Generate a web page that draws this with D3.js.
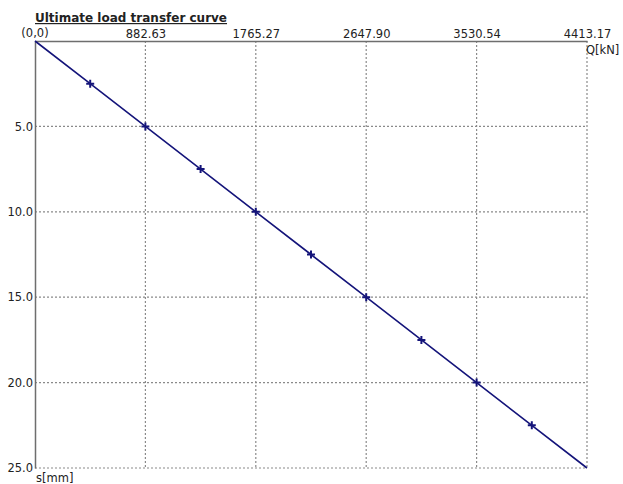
<!DOCTYPE html>
<html>
<head>
<meta charset="utf-8">
<script src="https://cdn.jsdelivr.net/npm/d3@7"></script>
<style>
  html, body { margin: 0; padding: 0; background: #fff; }
  svg { display: block; }
  text { font-family: "DejaVu Sans", Verdana, sans-serif; fill: #222; }
</style>
</head>
<body>
<svg id="chart" width="623" height="484"></svg>
<script>
// Load (Q) and settlement (s) along the ultimate load transfer curve
const loadQ = [0, 441.32, 882.63, 1323.95, 1765.27, 2206.59, 2647.90, 3089.22, 3530.54, 3971.85, 4413.17];
const settlementS = [0, 2.5, 5.0, 7.5, 10.0, 12.5, 15.0, 17.5, 20.0, 22.5, 25.0];
const qTicks = [882.63, 1765.27, 2647.90, 3530.54, 4413.17];
const sTicks = [5.0, 10.0, 15.0, 20.0, 25.0];

const svg = d3.select("#chart");
const plot = { left: 35, top: 41, right: 587, bottom: 468 };

const x = d3.scaleLinear().domain([0, 4413.17]).range([plot.left, plot.right]);
const y = d3.scaleLinear().domain([0, 25]).range([plot.top, plot.bottom]);

const gridColor = "#8a8a8a";

// Dotted grid lines
svg.append("g").selectAll("line").data(qTicks).join("line")
  .attr("x1", d => x(d)).attr("x2", d => x(d))
  .attr("y1", plot.top).attr("y2", plot.bottom)
  .attr("stroke", gridColor).attr("stroke-width", 1.2)
  .attr("stroke-dasharray", "2,2");
svg.append("g").selectAll("line").data(sTicks).join("line")
  .attr("x1", plot.left).attr("x2", plot.right)
  .attr("y1", d => y(d)).attr("y2", d => y(d))
  .attr("stroke", gridColor).attr("stroke-width", 1.2)
  .attr("stroke-dasharray", "2,2");

// Top axis (Q) and left axis (s)
const xAxis = d3.axisTop(x).tickValues(qTicks).tickSize(0).tickPadding(3)
  .tickFormat(d3.format(".2f"));
const gx = svg.append("g").attr("transform", `translate(0,${plot.top})`).call(xAxis);
gx.select(".domain").attr("stroke", "#6e6e6e").attr("stroke-width", 1.5);
gx.selectAll("text").style("font-size", "11.5px").attr("fill", "#222");

const yAxis = d3.axisLeft(y).tickValues(sTicks).tickSize(0).tickPadding(2)
  .tickFormat(d3.format(".1f"));
const gy = svg.append("g").attr("transform", `translate(${plot.left},0)`).call(yAxis);
gy.select(".domain").attr("stroke", "#6e6e6e").attr("stroke-width", 1.5);
gy.selectAll("text").style("font-size", "11.5px").attr("fill", "#222");

// Origin label and axis titles
svg.append("text").attr("x", plot.left).attr("y", 37).attr("text-anchor", "middle")
  .style("font-size", "11.5px").text("(0,0)");
svg.append("text").attr("x", plot.right - 1).attr("y", 54)
  .style("font-size", "11.5px").text("Q[kN]");
svg.append("text").attr("x", plot.left + 1).attr("y", 482)
  .style("font-size", "11.5px").text("s[mm]");

// Title
svg.append("text").attr("x", plot.left).attr("y", 22)
  .style("font-size", "12px").style("font-weight", "bold")
  .style("text-decoration", "underline").text("Ultimate load transfer curve");

// Curve
const pts = loadQ.map((q, i) => [q, settlementS[i]]);
const navy = "#14147a";
svg.append("path").datum(pts)
  .attr("fill", "none").attr("stroke", navy).attr("stroke-width", 1.6)
  .attr("d", d3.line().x(d => x(d[0])).y(d => y(d[1])));

// Cross markers at intermediate points
const inner = pts.slice(1, -1);
svg.append("g").selectAll("path").data(inner).join("path")
  .attr("transform", d => `translate(${x(d[0])},${y(d[1])})`)
  .attr("d", "M-4,0H4M0,-4V4")
  .attr("stroke", navy).attr("stroke-width", 2);
</script>
</body>
</html>
